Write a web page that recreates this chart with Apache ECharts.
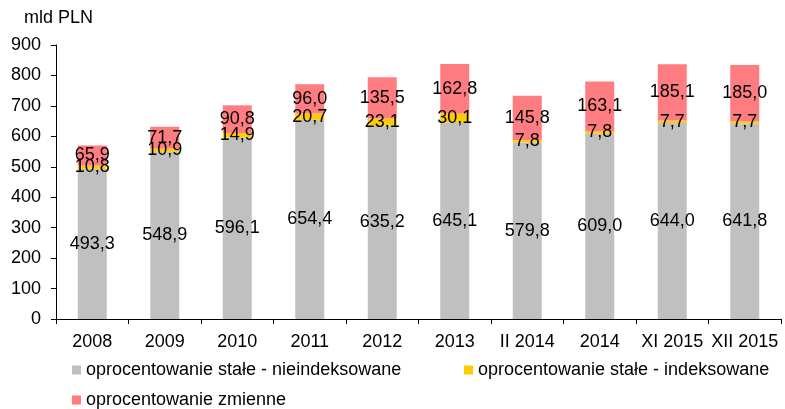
<!DOCTYPE html>
<html>
<head>
<meta charset="utf-8">
<script src="https://cdn.jsdelivr.net/npm/echarts@6/dist/echarts.min.js"></script>
<style>
  html, body { margin: 0; padding: 0; background: #fff; }
  #chart { width: 785px; height: 409px; }
</style>
</head>
<body>
<div id="chart"></div>
<script>
const categories = ['2008', '2009', '2010', '2011', '2012', '2013', 'II 2014', '2014', 'XI 2015', 'XII 2015'];
const fixedNonIndexed = [493.3, 548.9, 596.1, 654.4, 635.2, 645.1, 579.8, 609.0, 644.0, 641.8];
const fixedIndexed = [10.8, 10.9, 14.9, 20.7, 23.1, 30.1, 7.8, 7.8, 7.7, 7.7];
const variableRate = [65.9, 71.7, 90.8, 96.0, 135.5, 162.8, 145.8, 163.1, 185.1, 185.0];
const yTicks = [0, 100, 200, 300, 400, 500, 600, 700, 800, 900];

const names = [
  'oprocentowanie stałe - nieindeksowane',
  'oprocentowanie stałe - indeksowane',
  'oprocentowanie zmienne'
];
const FONT = 'Liberation Sans, Arial, sans-serif';
const FS = 18;

const chart = echarts.init(document.getElementById('chart'), null, { renderer: 'canvas' });

function fmt(p) {
  return p.value.toFixed(1).replace('.', ',');
}

const label = {
  show: true,
  position: 'inside',
  color: '#000',
  fontSize: FS,
  fontFamily: FONT,
  formatter: fmt
};

function legendAt(name, left, top) {
  return {
    data: [name],
    left: left,
    top: top,
    itemWidth: 9,
    itemHeight: 9,
    icon: 'rect',
    padding: 0,
    textStyle: { color: '#000', fontSize: FS, fontFamily: FONT }
  };
}

const option = {
  animation: false,
  color: ['#C0C0C0', '#FFCC00', '#FF7C80'],
  title: {
    text: 'mld PLN',
    left: 24,
    top: 9,
    padding: 0,
    textStyle: { color: '#000', fontSize: FS, fontWeight: 'normal', fontFamily: FONT }
  },
  legend: [
    legendAt(names[0], 72, 361),
    legendAt(names[1], 464, 361),
    legendAt(names[2], 72, 391)
  ],
  grid: { left: 56, right: 4, top: 45, bottom: 90 },
  xAxis: {
    type: 'category',
    data: categories,
    axisLine: { lineStyle: { color: '#000', width: 1 } },
    axisTick: { show: true, length: 5, lineStyle: { color: '#000' } },
    axisLabel: { color: '#000', fontSize: FS, fontFamily: FONT, margin: 14, interval: 0 }
  },
  yAxis: {
    type: 'value',
    min: yTicks[0],
    max: yTicks[yTicks.length - 1],
    interval: 100,
    axisLine: { show: true, lineStyle: { color: '#000', width: 1 } },
    axisTick: { show: true, length: 5, lineStyle: { color: '#000' } },
    splitLine: { show: false },
    axisLabel: { color: '#000', fontSize: FS, fontFamily: FONT, margin: 15 }
  },
  series: [
    { name: names[0], type: 'bar', stack: 'total', barWidth: 29, data: fixedNonIndexed, label: label },
    { name: names[1], type: 'bar', stack: 'total', barWidth: 29, data: fixedIndexed, label: label },
    { name: names[2], type: 'bar', stack: 'total', barWidth: 29, data: variableRate, label: label }
  ]
};

chart.setOption(option);
</script>
</body>
</html>
